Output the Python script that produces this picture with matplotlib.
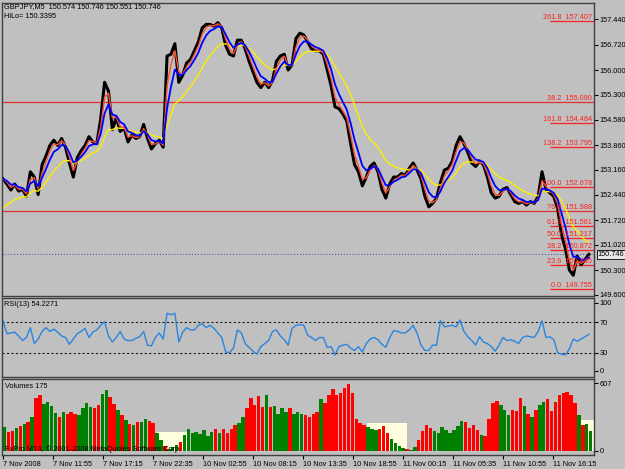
import numpy as np
import pandas as pd
import matplotlib
matplotlib.use("Agg")
import matplotlib.pyplot as plt

# GBPJPY M5 - one value every 5 bars
close = [152.90, 152.75, 152.58, 152.75, 152.55, 152.60, 152.40, 153.10, 152.95, 152.45,
         153.30, 153.55, 153.85, 154.00, 153.85, 154.05, 153.80, 153.35, 152.95, 153.50,
         153.70, 153.85, 154.10, 153.95, 153.90, 154.60, 155.65, 155.40, 154.30, 154.65,
         154.25, 154.35, 153.95, 154.15, 154.05, 154.10, 154.45, 154.05, 153.75, 153.90,
         154.00, 153.80, 156.40, 156.45, 156.75, 155.65, 155.85, 156.20, 156.30, 156.55,
         156.80, 157.20, 157.30, 157.30, 157.25, 157.35, 157.20, 156.70, 156.45, 156.40,
         156.85, 156.85, 156.60, 156.25, 155.95, 155.65, 155.50, 155.65, 155.50, 155.70,
         156.25, 156.40, 156.45, 156.00, 156.15, 156.90, 157.05, 157.00, 156.80, 156.60,
         156.55, 156.55, 156.45, 156.00, 155.55, 154.95, 154.90, 154.75, 154.55, 153.90,
         153.30, 153.10, 152.70, 152.95, 153.25, 153.35, 153.10, 152.60, 152.35, 152.75,
         152.95, 152.95, 153.05, 153.00, 153.20, 153.35, 153.15, 152.90, 152.40, 152.10,
         152.20, 152.35, 152.80, 153.15, 153.20, 153.40, 153.85, 154.10, 153.90, 153.65,
         153.35, 153.25, 153.40, 153.30, 152.95, 152.50, 152.35, 152.40, 152.60, 152.65,
         152.45, 152.25, 152.20, 152.25, 152.15, 152.25, 152.20, 152.40, 153.10, 152.60,
         152.50, 152.40, 152.05, 151.30, 150.90, 150.30, 150.15, 150.70, 150.45, 150.60,
         150.746]

rsi = [72, 55, 56, 57, 52, 46, 50, 63, 42, 48,
       58, 63, 58, 61, 57, 52, 50, 41, 48, 55,
       58, 62, 50, 57, 60, 66, 71, 52, 44, 50,
       58, 48, 46, 46, 49, 51, 58, 40, 39, 50,
       56, 48, 82, 80, 82, 44, 57, 63, 60, 60,
       66, 68, 63, 66, 62, 56, 50, 31, 30, 36,
       60, 56, 42, 37, 32, 28, 38, 42, 46, 58,
       60, 52, 47, 40, 62, 66, 67, 66, 53, 50,
       46, 50, 50, 37, 38, 27, 38, 40, 41, 36,
       33, 38, 31, 42, 48, 50, 47, 41, 37, 50,
       59, 58, 56, 56, 60, 66, 56, 40, 33, 33,
       40, 40, 72, 64, 65, 66, 64, 73, 58, 51,
       46, 40, 51, 44, 42, 38, 32, 40, 50, 46,
       47, 45, 42, 50, 52, 51, 50, 58, 72, 50,
       51, 47, 30, 28, 27, 35, 48, 45, 48, 51,
       54.2271]

volume = [217, 170, 180, 205, 225, 240, 262, 300, 470, 500,
          420, 440, 400, 340, 300, 350, 330, 350, 330, 320,
          380, 430, 390, 380, 410, 510, 545, 480, 420, 370,
          320, 280, 240, 230, 262, 260, 290, 270, 250, 160,
          100, 40, 15, 35, 50, 80, 140, 200, 160, 170,
          150, 185, 130, 170, 200, 160, 200, 160, 200, 230,
          250, 300, 380, 470, 410, 490, 390, 500, 390, 400,
          330, 380, 350, 380, 330, 350, 330, 320, 300, 330,
          350, 460, 430, 500, 550, 500, 520, 560, 600, 520,
          290, 250, 235, 215, 195, 190, 200, 225, 160, 105,
          70, 42, 28, 15, 12, 38, 100, 180, 230, 205,
          175, 160, 215, 185, 160, 185, 225, 270, 260, 205,
          230, 185, 140, 130, 290, 430, 450, 410, 370, 325,
          370, 360, 470, 400, 330, 300, 370, 410, 440, 460,
          360, 440, 500, 520, 525, 500, 430, 320, 235, 245,
          175]

price_ticks = [157.440, 156.720, 156.000, 155.300, 154.580, 153.860,
               153.160, 152.440, 151.720, 151.020, 150.300, 149.600]
time_labels = ['7 Nov 2008', '7 Nov 11:55', '7 Nov 17:15', '7 Nov 22:35',
               '10 Nov 02:55', '10 Nov 08:15', '10 Nov 13:35', '10 Nov 18:55',
               '11 Nov 00:15', '11 Nov 05:35', '11 Nov 10:55', '11 Nov 16:15']

fib_names = ['261.8', '161.8', '138.2', '100.0', '61.8', '50.0', '38.2', '23.6', '0.0']
fib_prices = [157.407, 154.484, 153.795, 152.678, 151.561, 151.217, 150.872, 150.445, 149.755]
line_names = ['38.2', '76.4']
line_prices = [155.090, 151.988]

# off-session shading in the volume window: start bar, end bar, height
session_boxes = [(197, 237, 170), (466, 517, 250), (736, 757, 277)]

W, H = 625, 469
BG = '#C0C0C0'
FONT = 'Liberation Sans'
FS = 5.3

fig = plt.figure(figsize=(W / 100, H / 100), dpi=100, facecolor=BG)


def px_axes(x0, y0, x1, y1):
    a = fig.add_axes([x0 / W, 1 - y1 / H, (x1 - x0) / W, (y1 - y0) / H])
    a.set_facecolor(BG)
    for s in a.spines.values():
        s.set_color('#404040')
        s.set_linewidth(1)
    a.set_xlim(-1.3, 756.5)
    a.yaxis.tick_right()
    a.tick_params(axis='y', length=3, pad=1, labelsize=FS, colors='black')
    a.tick_params(axis='x', length=0, labelbottom=False)
    return a


bars = np.arange(len(close)) * 5
s = pd.Series(close)
ma_red = s.ewm(span=2, adjust=False).mean()
ma_blue = s.ewm(span=4, adjust=False).mean()
ma_yellow = pd.concat([pd.Series([151.9]), s]).ewm(span=12, adjust=False).mean().iloc[1:]

# ---- price window
ax = px_axes(2, 3, 594, 296)
ax.set_ylim(149.56, 157.91)
ax.set_yticks(price_ticks)
ax.set_yticklabels([f'{v:.3f}' for v in price_ticks], family=FONT)

for name, p in zip(line_names, line_prices):
    ax.axhline(p, color='#E03030', lw=0.9)
    ax.text(754, p, f'{name}  {p:.3f}', color='#FF2020', fontsize=FS, family=FONT,
            ha='right', va='bottom')
ax.axhline(close[-1], color='#4040C0', lw=0.7, ls=(0, (1, 2)))

for name, p in zip(fib_names, fib_prices):
    ax.hlines(p, 700, 756, color='#FF2020', lw=0.9)
    ax.text(754, p, f'{name}  {p:.3f}', color='#FF2020', fontsize=FS, family=FONT,
            ha='right', va='bottom')

ax.plot(bars, close, color='black', lw=2.2)
ax.plot(bars, ma_yellow, color='#FFEE00', lw=1)
ax.plot(bars, ma_red, color='#FF5030', lw=1)
ax.plot(bars, ma_blue, color='#0000FF', lw=1.3)

ax.annotate(f'{close[-1]:.3f}', xy=(1.0, close[-1]), xycoords=('axes fraction', 'data'),
            xytext=(2.5, 0), textcoords='offset points', va='center', fontsize=FS, family=FONT,
            bbox=dict(fc='#E8E8E8', ec='black', lw=0.6, pad=0.5))

# ---- RSI window
ax_rsi = px_axes(2, 298, 594, 377)
ax_rsi.set_ylim(-2, 102)
ax_rsi.set_yticks([96, 70, 30, 6])
ax_rsi.set_yticklabels(['100', '70', '30', '0'], family=FONT)
for lvl in (70, 30):
    ax_rsi.axhline(lvl, color='#202020', lw=0.8, ls=(0, (2, 2)))
ax_rsi.plot(bars, rsi, color='#2A85E0', lw=1)

# ---- volume window
ax_vol = px_axes(2, 379, 594, 455)
ax_vol.set_ylim(-36, 643)
ax_vol.set_yticks([607, 0])
ax_vol.set_yticklabels(['607', '0'], family=FONT)
for x0, x1, h in session_boxes:
    ax_vol.fill_between([x0, x1], 0, h, color='#FFFFE0', lw=0)
up = np.r_[True, np.diff(close) >= 0]
colors = np.where(up, '#008000', '#FF0000')
ax_vol.bar(bars, volume, width=4.4, color=colors, align='edge', lw=0)
ax_vol.set_xticks(np.arange(len(time_labels)) * 64)
ax_vol.set_xticklabels(time_labels, family=FONT, ha='left')
ax_vol.tick_params(axis='x', length=3, pad=1, labelsize=FS, labelbottom=True, colors='black')
ax_vol.text(0.005, 0.02, 'FxPro MT4, © 2001-2008 MetaQuotes Software Corp.',
            transform=ax_vol.transAxes, fontsize=FS, family=FONT, va='bottom', color='black')

# ---- window captions
fig.text(4 / W, 1 - 7 / H, 'GBPJPY,M5  150.574 150.746 150.551 150.746',
         fontsize=FS, family=FONT, va='center')
fig.text(4 / W, 1 - 17 / H, 'HiLo= 150.3395', fontsize=FS, family=FONT, va='center')
fig.text(4 / W, 1 - 305 / H, 'RSI(13) 54.2271', fontsize=FS, family=FONT, va='center')
fig.text(5 / W, 1 - 386 / H, 'Volumes 175', fontsize=FS, family=FONT, va='center')

fig.savefig('out.png', dpi=100, facecolor=BG)
